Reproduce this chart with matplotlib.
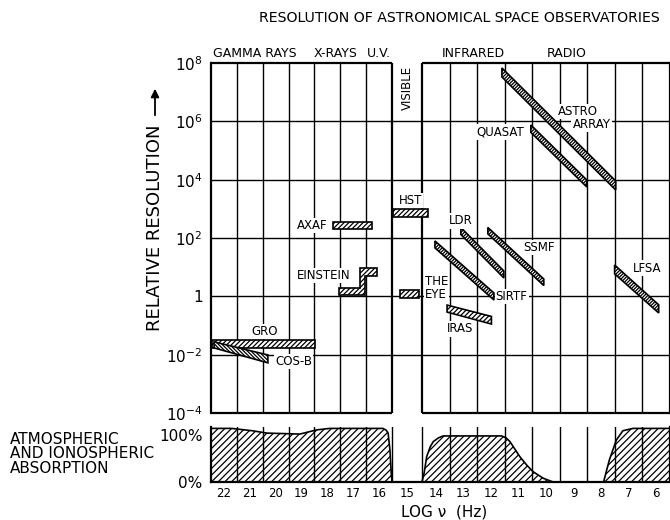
# Resolution of astronomical space observatories vs log frequency,
# with an atmospheric / ionospheric absorption strip underneath.
import numpy as np
import matplotlib.pyplot as plt

plt.rcParams['font.family'] = ['DejaVu Sans']
plt.rcParams['mathtext.default'] = 'regular'
plt.rcParams['hatch.linewidth'] = 0.9

# --- data (x = log10 of frequency in Hz, y = log10 of relative resolution) ---
decades = list(range(22, 5, -1))          # cell labels 22 ... 6
res_ticks = [-4, -2, 0, 2, 4, 6, 8]
res_tick_labels = ['$10^{-4}$', '$10^{-2}$', '1', '$10^{2}$', '$10^{4}$', '$10^{6}$', '$10^{8}$']

# flat bars
bar_names = ['AXAF', 'HST', 'THE EYE', 'GRO']
bar_nu_left = [17.78, 15.48, 15.23, 22.46]
bar_nu_right = [16.27, 14.29, 14.59, 18.48]
bar_res_low = [2.31, 2.73, -0.07, -1.77]
bar_res_high = [2.56, 2.985, 0.22, -1.50]

# Einstein step outline
einstein_nu = [17.54, 16.74, 16.74, 16.09, 16.09, 16.54, 16.54, 17.54]
einstein_res = [0.276, 0.276, 0.962, 0.962, 0.70, 0.70, 0.047, 0.047]

# slanted bands: left/right log nu, top/bottom log res at each end
band_names = ['COS-B', 'LDR', 'SSMF', 'SIRTF', 'ASTRO ARRAY', 'QUASAT', 'LFSA', 'IRAS']
band_nu_left = [22.38, 13.09, 12.11, 14.03, 11.60, 10.55, 7.51, 13.59]
band_nu_right = [20.30, 11.53, 10.08, 11.89, 7.47, 8.52, 5.91, 11.98]
band_top_left = [-1.56, 2.36, 2.36, 1.90, 7.83, 5.875, 1.075, -0.30]
band_bot_left = [-1.77, 2.12, 2.14, 1.66, 7.52, 5.62, 0.77, -0.54]
band_top_right = [-2.01, 0.87, 0.595, 0.115, 3.955, 3.99, -0.29, -0.69]
band_bot_right = [-2.28, 0.63, 0.37, -0.125, 3.646, 3.75, -0.57, -0.95]

# absorption curves (percent)
abs_hi_nu = [22.5, 21.7, 20.9, 20.33, 19.06, 18.4, 17.9, 15.85, 15.72, 15.65, 15.58, 15.53, 15.5]
abs_hi_pct = [114, 114, 109, 104, 102, 111, 114, 114, 110, 104, 68, 20, 0]
abs_ir_nu = [14.5, 14.42, 14.33, 14.2, 14.09, 13.9, 13.73, 11.61, 11.45, 11.31, 10.95, 10.7, 10.47, 10.1, 9.74]
abs_ir_pct = [0, 20, 54, 75, 86, 94, 98, 98, 94, 86, 54, 36, 22, 8, 0]
abs_radio_nu = [7.91, 7.8, 7.70, 7.45, 7.21, 6.85, 5.5]
abs_radio_pct = [0, 25, 47, 89, 109, 114, 114]


# hand-drawn cells are not equal: gamma..UV cells narrower, visible band a gap
def fwd(v):
    v = np.asarray(v, dtype=float)
    return np.where(v >= 15.5, 278 + (v - 15.5) * 181 / 7,
                    np.where(v >= 14.5, 248 + (v - 14.5) * 30, (v - 5.5) * 248 / 9))


def inv(p):
    p = np.asarray(p, dtype=float)
    return np.where(p >= 278, 15.5 + (p - 278) * 7 / 181,
                    np.where(p >= 248, 14.5 + (p - 248) / 30, 5.5 + p * 9 / 248))


W, H = 670, 520
fig = plt.figure(figsize=(6.7, 5.2), dpi=100)
ax = fig.add_axes([211 / W, 1 - 413 / H, 459 / W, 350 / H])
ax2 = fig.add_axes([211 / W, 1 - 482 / H, 459 / W, 55 / H])

frame_lw = 1.6
grid_lw = 1.0

# ---------------- main panel ----------------
ax.set_xscale('function', functions=(fwd, inv))
ax.set_yscale('log')
ax.set_xlim(22.5, 5.5)
ax.set_ylim(1e-4, 1e8)
ax.set_xticks([])
ax.set_yticks([10.0 ** t for t in res_ticks])
ax.set_yticklabels(res_tick_labels, fontsize=11)
ax.yaxis.set_minor_locator(plt.NullLocator())
ax.tick_params(axis='y', length=0, pad=6)
for s in ['top', 'bottom']:
    ax.spines[s].set_visible(False)
for s in ['left', 'right']:
    ax.spines[s].set_linewidth(frame_lw)

inner = [d + 0.5 for d in decades[1:] if d + 0.5 not in (15.5, 14.5)]
for v in inner:
    ax.axvline(v, color='k', lw=grid_lw, zorder=1)
for t in res_ticks[1:-1]:
    ax.axhline(10.0 ** t, color='k', lw=grid_lw, zorder=1)
for v in (15.5, 14.5):
    ax.axvline(v, color='k', lw=frame_lw, zorder=1)
for y in (1e8, 1e-4):
    ax.hlines(y, 22.5, 15.5, color='k', lw=frame_lw, clip_on=False)
    ax.hlines(y, 14.5, 5.5, color='k', lw=frame_lw, clip_on=False)

for i in range(len(bar_names)):
    xs = [bar_nu_left[i], bar_nu_right[i], bar_nu_right[i], bar_nu_left[i]]
    ys = [10.0 ** bar_res_low[i], 10.0 ** bar_res_low[i],
          10.0 ** bar_res_high[i], 10.0 ** bar_res_high[i]]
    ax.fill(xs, ys, facecolor='white', edgecolor='k', lw=1.2, hatch='///////', zorder=3)

ax.fill(einstein_nu, [10.0 ** r for r in einstein_res], facecolor='white',
        edgecolor='k', lw=1.2, hatch='///////', zorder=3)

for i in range(len(band_names)):
    xs = [band_nu_left[i], band_nu_right[i], band_nu_right[i], band_nu_left[i]]
    ys = [10.0 ** band_top_left[i], 10.0 ** band_top_right[i],
          10.0 ** band_bot_right[i], 10.0 ** band_bot_left[i]]
    if band_names[i] == 'IRAS':
        h = '///////'
    elif band_names[i] == 'COS-B':
        h = '\\' * 9
    else:
        h = '/' * 10
    ax.fill(xs, ys, facecolor='white', edgecolor='k', lw=1.2, hatch=h, zorder=3)

lab = dict(fontsize=8.5, ha='center', va='center', zorder=4,
           bbox=dict(facecolor='white', edgecolor='none', pad=0.8))
ax.text(18.57, 10 ** 2.43, 'AXAF', **lab)
ax.text(14.88, 10 ** 3.30, 'HST', **lab)
ax.text(18.15, 10 ** 0.714, 'EINSTEIN', **lab)
ax.text(20.43, 10 ** -1.22, 'GRO', **lab)
ax.text(19.31, 10 ** -2.22, 'COS-B', **lab)
ax.text(13.12, 10 ** -1.12, 'IRAS', **lab)
ax.text(11.25, 10 ** -0.006, 'SIRTF', **lab)
ax.text(10.27, 10 ** 1.674, 'SSMF', **lab)
ax.text(13.085, 10 ** 2.583, 'LDR', **lab)
ax.text(11.67, 10 ** 5.634, 'QUASAT', **lab)
ax.text(8.857, 10 ** 6.337, 'ASTRO', **lab)
ax.text(8.349, 10 ** 5.891, 'ARRAY', **lab)
ax.text(6.335, 10 ** 0.971, 'LFSA', **lab)
ax.text(14.39, 10 ** 0.286, 'THE\nEYE', fontsize=8.5, ha='left', va='center',
        linespacing=0.97, zorder=4, bbox=dict(facecolor='white', edgecolor='none', pad=0.8))
ax.text(15.0, 10 ** 7.143, 'VISIBLE', fontsize=8.5, rotation=90, ha='center', va='center',
        zorder=4, bbox=dict(facecolor='white', edgecolor='none', pad=0.8))

for v, name in [(20.80, 'GAMMA RAYS'), (17.67, 'X-RAYS'), (16.0, 'U.V.'),
                (12.65, 'INFRARED'), (9.24, 'RADIO')]:
    ax.text(v, 10 ** 8.31, name, fontsize=9, ha='center', va='center', clip_on=False)

# ---------------- absorption panel ----------------
ax2.set_xscale('function', functions=(fwd, inv))
ax2.set_xlim(22.5, 5.5)
ax2.set_ylim(0, 117)
ax2.set_xticks(decades)
ax2.set_xticklabels([str(d) for d in decades], fontsize=8.5)
ax2.set_yticks([0, 100])
ax2.set_yticklabels(['0%', '100%'], fontsize=11)
ax2.tick_params(length=0)
ax2.tick_params(axis='x', pad=3.5)
ax2.tick_params(axis='y', pad=6)
ax2.spines['top'].set_visible(False)
for s in ['left', 'bottom', 'right']:
    ax2.spines[s].set_linewidth(frame_lw)
for d in decades[1:]:
    ax2.axvline(d + 0.5, color='k', lw=grid_lw, zorder=1)

for nu, pct in [(abs_hi_nu, abs_hi_pct), (abs_ir_nu, abs_ir_pct), (abs_radio_nu, abs_radio_pct)]:
    ax2.fill_between(nu, pct, 0, facecolor='none', edgecolor='k', lw=1.2, hatch='/////', zorder=2)

# ---------------- figure texts ----------------
fig.text(459 / W, 1 - 18 / H, 'RESOLUTION OF ASTRONOMICAL SPACE OBSERVATORIES',
         fontsize=10.2, ha='center', va='center')
fig.text(155 / W, 1 - 228 / H, 'RELATIVE RESOLUTION', fontsize=13, rotation=90,
         ha='center', va='center')
fig.add_artist(plt.matplotlib.patches.FancyArrowPatch(
    (155 / W, 1 - 118 / H), (155 / W, 1 - 86 / H), transform=fig.transFigure,
    arrowstyle='-|>', mutation_scale=12, lw=1.3, color='k'))
fig.text(10 / W, 1 - 454 / H, 'ATMOSPHERIC\nAND IONOSPHERIC\nABSORPTION',
         fontsize=11, ha='left', va='center', linespacing=0.98)
fig.text(444 / W, 1 - 512 / H, 'LOG \u03bd  (Hz)', fontsize=11, ha='center', va='center')

fig.savefig('out.png', dpi=100)
